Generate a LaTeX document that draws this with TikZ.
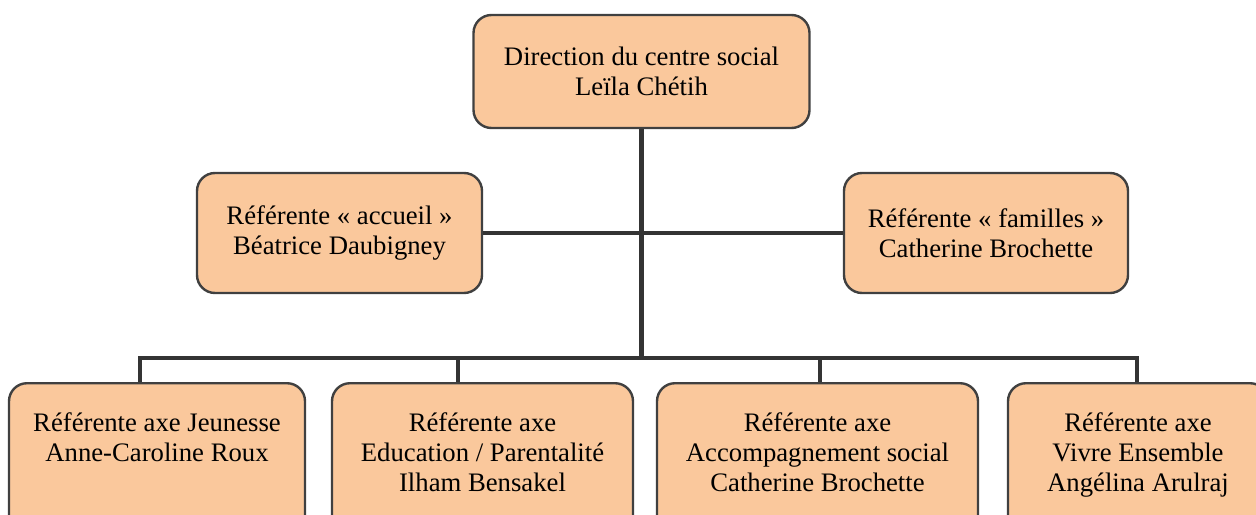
\documentclass[tikz,border=0pt]{standalone}
\usepackage{fontspec}
\setmainfont{Liberation Serif}
\usetikzlibrary{calc}
\definecolor{peche}{RGB}{250,200,156}
\definecolor{bord}{RGB}{64,64,64}
\definecolor{trait}{RGB}{52,52,52}
\newcommand{\lignes}[1]{\begin{tabular}[t]{@{}c@{}}#1\end{tabular}}

\begin{document}
\begin{tikzpicture}[x=0.5pt, y=-0.5pt,
  boite/.style={draw=bord, line width=1.2pt, fill=peche, rounded corners=9pt,
    align=center, font=\fontsize{13.35}{15}\selectfont},
  bas/.style={boite, anchor=north, inner ysep=14pt, text height=10pt, text depth=80pt},
  lien/.style={draw=trait, line width=2.2pt}]
\useasboundingbox (0,0) rectangle (1256,514);
\clip (0,0) rectangle (1256,514);
% direction et referentes
\node[boite, minimum width=168pt, minimum height=56.5pt] (direction) at (641.5,71.5)
  {Direction du centre social\\Leïla Chétih};
\node[boite, minimum width=142.5pt, minimum height=60pt] (accueil) at (339.5,233)
  {Référente « accueil »\\Béatrice Daubigney};
\node[boite, minimum width=142pt, minimum height=60pt] (familles) at (986,233)
  {Référente « familles »\\Catherine Brochette};
% axes
\node[bas, minimum width=148pt] (jeunesse) at (157,382)
  {\lignes{Référente axe Jeunesse\\Anne-Caroline Roux}};
\node[bas, minimum width=150.5pt] (education) at (482.5,382)
  {\lignes{Référente axe\\Education / Parentalité\\Ilham Bensakel}};
\node[bas, minimum width=160.5pt] (accompagnement) at (817.5,382)
  {\lignes{Référente axe\\Accompagnement social\\Catherine Brochette}};
\node[bas, minimum width=130pt] (vivre) at (1138,382)
  {\lignes{Référente axe\\Vivre Ensemble\\Angélina Arulraj}};
% liaisons
\coordinate (bus) at (641.5,358);
\foreach \n/\x in {jeunesse/140, education/458, accompagnement/820, vivre/1137}
  \coordinate (\n-haut) at (\x,358);
\draw[lien] (direction) -- (direction |- bus);
\draw[lien] (accueil) -- (familles);
\draw[lien] (jeunesse-haut |- jeunesse.north) -- (jeunesse-haut) -- (vivre-haut) -- (vivre-haut |- vivre.north);
\foreach \n in {education, accompagnement}
  \draw[lien] (\n-haut) -- (\n-haut |- \n.north);
\end{tikzpicture}
\end{document}
